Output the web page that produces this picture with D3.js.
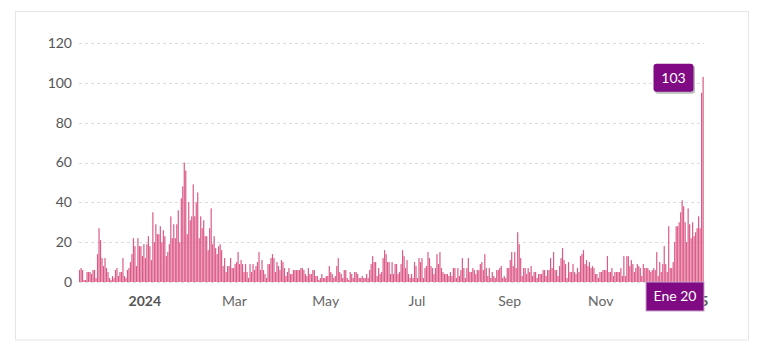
<!DOCTYPE html>
<html>
<head>
<meta charset="utf-8">
<script src="https://cdn.jsdelivr.net/npm/d3@7"></script>
<style>
  body { margin: 0; background: #fff; font-family: Lato, "Noto Sans", sans-serif; }
  svg { display: block; }
</style>
</head>
<body>
<svg id="chart" width="757" height="352"></svg>
<script>
// daily counts, month by month (first day of the series: 18 Nov 2023)
const startDate = new Date(2023, 10, 18);
const nov2023 = [6, 7, 6, 1, 1, 5, 5, 5, 4, 6, 6, 2, 14];
const dec2023 = [27, 21, 12, 8, 12, 7, 5, 2, 1, 3, 2, 6, 7, 3, 5, 5, 12, 3, 2, 6, 7, 10, 14, 22, 18, 8, 22, 18, 18, 13, 19];
const jan2024 = [12, 19, 23, 18, 11, 35, 20, 29, 24, 24, 28, 20, 26, 23, 13, 15, 19, 33, 22, 29, 22, 29, 36, 20, 42, 48, 60, 56, 24, 40, 31];
const feb2024 = [33, 49, 33, 40, 45, 22, 33, 27, 31, 23, 23, 16, 27, 37, 19, 23, 17, 14, 18, 19, 16, 8, 12, 5, 8, 8, 12, 7, 7];
const mar2024 = [9, 10, 15, 9, 11, 9, 5, 9, 5, 2, 9, 5, 9, 6, 8, 10, 15, 6, 11, 6, 4, 2, 9, 9, 12, 14, 12, 5, 10, 8, 6];
const apr2024 = [11, 10, 7, 3, 5, 7, 4, 4, 6, 6, 6, 6, 6, 7, 7, 6, 4, 3, 7, 4, 4, 6, 6, 3, 3, 1, 2, 4, 2, 2];
const may2024 = [3, 3, 8, 5, 4, 2, 3, 8, 12, 5, 4, 2, 6, 6, 2, 1, 5, 4, 2, 5, 5, 4, 2, 2, 3, 2, 2, 4, 2, 6, 9];
const jun2024 = [13, 10, 10, 3, 7, 4, 5, 12, 16, 14, 10, 10, 4, 10, 4, 9, 9, 4, 5, 9, 16, 13, 7, 11, 4, 2, 4, 2, 10, 8];
const jul2024 = [2, 12, 10, 12, 2, 7, 8, 15, 12, 8, 7, 4, 7, 14, 9, 15, 7, 5, 4, 4, 4, 3, 5, 3, 7, 7, 2, 7, 3, 6, 12];
const aug2024 = [7, 2, 7, 12, 5, 5, 7, 6, 4, 6, 6, 9, 10, 6, 14, 7, 3, 7, 2, 5, 3, 2, 6, 6, 7, 8, 2, 3, 2, 7, 7];
const sep2024 = [11, 15, 8, 15, 7, 25, 19, 12, 3, 7, 7, 4, 7, 5, 8, 3, 5, 5, 2, 4, 4, 4, 6, 6, 3, 6, 6, 12, 7, 15];
const oct2024 = [6, 6, 3, 8, 12, 17, 11, 9, 2, 10, 5, 5, 9, 5, 4, 7, 5, 13, 14, 16, 9, 11, 8, 10, 7, 8, 7, 4, 4, 2, 5];
const nov2024 = [5, 6, 6, 6, 13, 5, 5, 7, 3, 5, 5, 5, 5, 7, 3, 13, 3, 13, 13, 8, 11, 9, 5, 7, 9, 8, 7, 3, 9, 7];
const dec2024 = [7, 7, 6, 5, 6, 7, 6, 15, 3, 10, 5, 9, 18, 9, 5, 28, 7, 7, 10, 20, 28, 28, 30, 35, 41, 38, 30, 20, 37, 29, 22];
const jan2025 = [30, 23, 25, 27, 33, 27, 95, 103];

const yTicks = [0, 20, 40, 60, 80, 100, 120];
const monthNames = ["Ene", "Feb", "Mar", "Abr", "May", "Jun", "Jul", "Ago", "Sep", "Oct", "Nov", "Dic"];
const cursorLabel = "Ene 20";

const values = [].concat(nov2023, dec2023, jan2024, feb2024, mar2024, apr2024, may2024,
  jun2024, jul2024, aug2024, sep2024, oct2024, nov2024, dec2024, jan2025);
const data = values.map((v, i) => ({ date: d3.timeDay.offset(startDate, i), value: v }));

const width = 757, height = 352;
const margin = { top: 43, right: 53, bottom: 70, left: 79 };

const svg = d3.select("#chart");

// card border
svg.append("rect")
  .attr("x", 15.5).attr("y", 11.5)
  .attr("width", 733).attr("height", 328.5)
  .attr("fill", "#fff")
  .attr("stroke", "#e6e6e6");

const lastDate = data[data.length - 1].date;
const x = d3.scaleTime()
  .domain([startDate, d3.timeDay.offset(lastDate, 1)])
  .range([margin.left, width - margin.right]);

const y = d3.scaleLinear()
  .domain([0, 120])
  .range([height - margin.bottom, margin.top]);

// grid
svg.append("g")
  .selectAll("line")
  .data(yTicks)
  .join("line")
  .attr("x1", margin.left).attr("x2", width - margin.right)
  .attr("y1", d => Math.round(y(d)) + 0.5).attr("y2", d => Math.round(y(d)) + 0.5)
  .attr("stroke", "#dcdcdc")
  .attr("stroke-dasharray", "3,3");

// y labels
svg.append("g")
  .selectAll("text")
  .data(yTicks)
  .join("text")
  .attr("x", 72)
  .attr("y", d => y(d))
  .attr("dy", "0.35em")
  .attr("text-anchor", "end")
  .attr("font-size", 14)
  .attr("fill", "#555")
  .text(d => d);

// bars
const step = x(d3.timeDay.offset(startDate, 1)) - x(startDate);
svg.append("g")
  .attr("fill", "#dc5987")
  .selectAll("rect")
  .data(data)
  .join("rect")
  .attr("x", d => x(d.date))
  .attr("y", d => y(d.value))
  .attr("width", step - 0.3)
  .attr("height", d => y(0) - y(d.value));

// x labels
const xTicks = x.ticks(d3.timeMonth.every(2));
svg.append("g")
  .selectAll("text")
  .data(xTicks)
  .join("text")
  .attr("x", d => x(d))
  .attr("y", 301)
  .attr("dy", "0.35em")
  .attr("text-anchor", "middle")
  .attr("font-size", 14)
  .attr("font-weight", d => d.getMonth() === 0 ? "bold" : "normal")
  .attr("fill", d => d.getMonth() === 0 ? "#555" : "#666")
  .text(d => d.getMonth() === 0 ? d.getFullYear() : monthNames[d.getMonth()]);

// value tooltip on the last bar
const last = data[data.length - 1];
const tipW = 40, tipH = 28;
const tipX = x(last.date) - 9 - tipW, tipY = y(last.value) - 13;
const tip = svg.append("g");
tip.append("rect")
  .attr("x", tipX + 1.5).attr("y", tipY + 2)
  .attr("width", tipW).attr("height", tipH).attr("rx", 3)
  .attr("fill", "#bdbdbd");
tip.append("rect")
  .attr("x", tipX).attr("y", tipY)
  .attr("width", tipW).attr("height", tipH).attr("rx", 3)
  .attr("fill", "#7f0a84");
tip.append("text")
  .attr("x", tipX + tipW / 2).attr("y", tipY + tipH / 2)
  .attr("dy", "0.35em")
  .attr("text-anchor", "middle")
  .attr("font-size", 14)
  .attr("fill", "#fff")
  .text(last.value);

// cursor date label on the x axis (covers the 2025 tick label, as in the original)
const boxW = 58, boxH = 29;
const boxX = width - margin.right - boxW, boxY = y(0);
svg.append("rect")
  .attr("x", boxX).attr("y", boxY)
  .attr("width", boxW).attr("height", boxH)
  .attr("fill", "#7f0a84")
  .attr("stroke", "#c9a3cc");
svg.append("text")
  .attr("x", boxX + boxW / 2).attr("y", boxY + boxH / 2)
  .attr("dy", "0.35em")
  .attr("text-anchor", "middle")
  .attr("font-size", 14)
  .attr("fill", "#fff")
  .text(cursorLabel);
</script>
</body>
</html>
